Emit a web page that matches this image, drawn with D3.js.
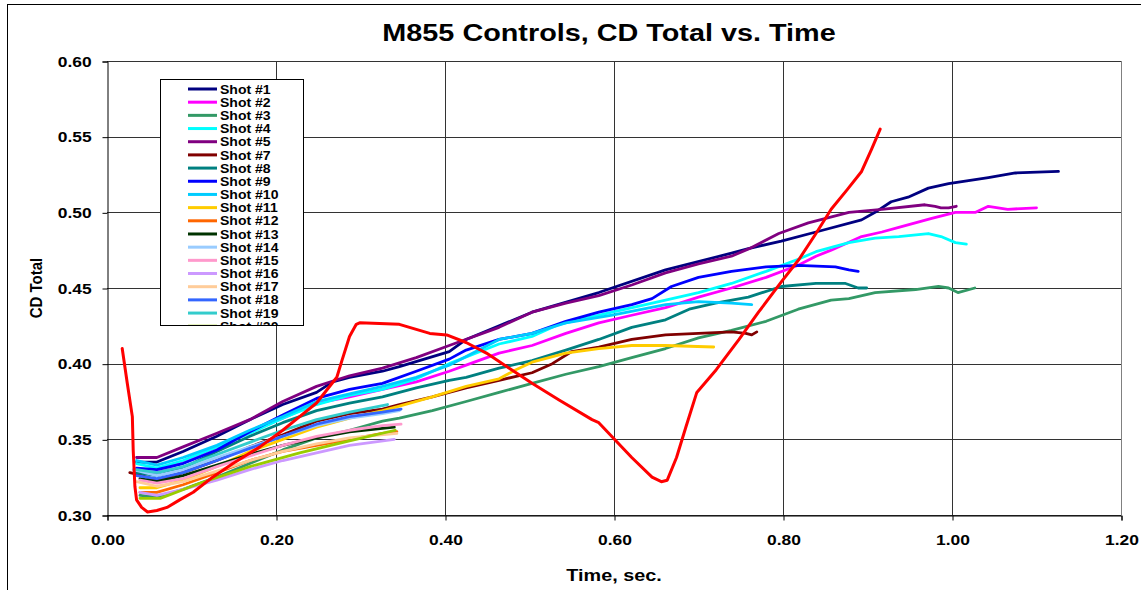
<!DOCTYPE html>
<html><head><meta charset="utf-8">
<script src="https://cdn.jsdelivr.net/npm/d3@7"></script>
<style>
html,body{margin:0;padding:0;background:#fff;}
svg text{font-family:"Liberation Sans",Arial,sans-serif;font-weight:bold;}
</style></head>
<body><svg id="c" width="1141" height="590"></svg>
<script>
// ---- data (time in s, CD total) ----
const chartTitle = "M855 Controls, CD Total vs. Time";
const xTitle = "Time, sec.";
const yTitle = "CD Total";
const xTicks = [0, 0.2, 0.4, 0.6, 0.8, 1.0, 1.2];
const yTicks = [0.30, 0.35, 0.40, 0.45, 0.50, 0.55, 0.60];

const shot1 = [[0.035,0.335],[0.059,0.335],[0.090,0.342],[0.130,0.352],[0.169,0.363],[0.208,0.373],[0.248,0.381],[0.267,0.388],[0.287,0.391],[0.326,0.395],[0.346,0.398],[0.405,0.408],[0.425,0.416],[0.503,0.434],[0.582,0.447],[0.661,0.462],[0.739,0.473],[0.759,0.476],[0.798,0.481],[0.839,0.487],[0.893,0.495],[0.909,0.500],[0.928,0.507],[0.948,0.510],[0.972,0.516],[0.996,0.519],[1.043,0.523],[1.075,0.526],[1.126,0.527]];
const shot2 = [[0.035,0.329],[0.059,0.328],[0.090,0.335],[0.130,0.345],[0.169,0.355],[0.208,0.364],[0.248,0.374],[0.287,0.378],[0.326,0.383],[0.366,0.388],[0.405,0.395],[0.425,0.399],[0.464,0.407],[0.503,0.412],[0.543,0.420],[0.582,0.427],[0.621,0.432],[0.661,0.437],[0.700,0.444],[0.739,0.450],[0.780,0.457],[0.818,0.465],[0.839,0.471],[0.857,0.475],[0.893,0.484],[0.917,0.487],[0.937,0.490],[0.976,0.496],[1.004,0.500],[1.028,0.500],[1.043,0.504],[1.066,0.502],[1.100,0.503]];
const shot3 = [[0.039,0.313],[0.059,0.312],[0.090,0.317],[0.130,0.325],[0.169,0.334],[0.208,0.343],[0.248,0.351],[0.287,0.356],[0.326,0.362],[0.346,0.364],[0.385,0.369],[0.425,0.375],[0.464,0.381],[0.503,0.387],[0.543,0.393],[0.582,0.398],[0.621,0.404],[0.661,0.410],[0.700,0.417],[0.739,0.422],[0.780,0.428],[0.818,0.436],[0.857,0.442],[0.878,0.443],[0.909,0.447],[0.957,0.449],[0.984,0.451],[0.996,0.450],[1.007,0.447],[1.027,0.450]];
const shot4 = [[0.035,0.334],[0.059,0.331],[0.090,0.336],[0.130,0.345],[0.169,0.354],[0.208,0.364],[0.248,0.373],[0.287,0.379],[0.326,0.383],[0.366,0.390],[0.405,0.400],[0.464,0.413],[0.503,0.418],[0.535,0.426],[0.598,0.434],[0.661,0.442],[0.700,0.447],[0.739,0.453],[0.780,0.461],[0.818,0.469],[0.839,0.474],[0.878,0.480],[0.909,0.483],[0.937,0.484],[0.972,0.486],[0.987,0.484],[1.004,0.480],[1.017,0.479]];
const shot5 = [[0.035,0.338],[0.059,0.338],[0.090,0.345],[0.130,0.354],[0.169,0.363],[0.208,0.375],[0.248,0.385],[0.287,0.392],[0.326,0.397],[0.366,0.404],[0.405,0.412],[0.464,0.424],[0.503,0.434],[0.543,0.440],[0.582,0.445],[0.621,0.452],[0.661,0.460],[0.700,0.466],[0.739,0.471],[0.760,0.476],[0.795,0.486],[0.830,0.493],[0.878,0.500],[0.917,0.502],[0.968,0.505],[0.980,0.504],[0.987,0.503],[0.996,0.503],[1.005,0.504]];
const shot7 = [[0.027,0.328],[0.035,0.327],[0.059,0.323],[0.090,0.328],[0.130,0.336],[0.169,0.345],[0.208,0.353],[0.248,0.362],[0.287,0.367],[0.326,0.370],[0.346,0.373],[0.385,0.378],[0.425,0.384],[0.464,0.389],[0.503,0.394],[0.527,0.400],[0.550,0.408],[0.582,0.411],[0.621,0.416],[0.661,0.419],[0.700,0.420],[0.739,0.421],[0.756,0.420],[0.763,0.419],[0.769,0.421]];
const shot8 = [[0.035,0.328],[0.059,0.326],[0.090,0.331],[0.130,0.342],[0.169,0.352],[0.208,0.361],[0.248,0.369],[0.287,0.374],[0.326,0.378],[0.366,0.384],[0.405,0.389],[0.425,0.391],[0.464,0.397],[0.503,0.402],[0.543,0.409],[0.582,0.416],[0.621,0.424],[0.661,0.429],[0.689,0.436],[0.720,0.440],[0.759,0.444],[0.798,0.451],[0.839,0.453],[0.874,0.453],[0.889,0.450],[0.899,0.450]];
const shot9 = [[0.035,0.331],[0.059,0.330],[0.090,0.334],[0.130,0.343],[0.169,0.355],[0.208,0.366],[0.248,0.377],[0.287,0.383],[0.326,0.387],[0.366,0.395],[0.405,0.403],[0.425,0.409],[0.464,0.416],[0.503,0.420],[0.543,0.428],[0.582,0.434],[0.621,0.439],[0.645,0.443],[0.668,0.451],[0.700,0.457],[0.739,0.461],[0.780,0.464],[0.818,0.465],[0.862,0.464],[0.878,0.462],[0.889,0.461]];
const shot10 = [[0.035,0.336],[0.059,0.333],[0.090,0.338],[0.130,0.346],[0.169,0.356],[0.208,0.365],[0.248,0.375],[0.287,0.380],[0.326,0.385],[0.366,0.391],[0.405,0.399],[0.464,0.416],[0.503,0.420],[0.543,0.427],[0.598,0.432],[0.661,0.439],[0.700,0.441],[0.739,0.440],[0.763,0.439]];
const shot11 = [[0.039,0.318],[0.059,0.318],[0.090,0.323],[0.130,0.332],[0.169,0.342],[0.208,0.350],[0.248,0.358],[0.287,0.364],[0.326,0.369],[0.346,0.372],[0.385,0.378],[0.425,0.385],[0.464,0.390],[0.484,0.396],[0.503,0.401],[0.543,0.407],[0.582,0.410],[0.621,0.412],[0.661,0.412],[0.718,0.411]];
const shot12 = [[0.039,0.315],[0.059,0.315],[0.090,0.320],[0.130,0.328],[0.169,0.336],[0.208,0.342],[0.248,0.346],[0.287,0.350],[0.326,0.354],[0.343,0.355]];
const shot13 = [[0.039,0.324],[0.059,0.322],[0.090,0.326],[0.130,0.333],[0.169,0.340],[0.208,0.346],[0.248,0.351],[0.287,0.355],[0.340,0.358]];
const shot14 = [[0.031,0.330],[0.059,0.326],[0.090,0.330],[0.130,0.338],[0.169,0.345],[0.208,0.352],[0.248,0.359],[0.287,0.364],[0.326,0.367],[0.346,0.369]];
const shot15 = [[0.039,0.323],[0.059,0.321],[0.090,0.324],[0.130,0.332],[0.169,0.339],[0.208,0.346],[0.248,0.352],[0.287,0.356],[0.326,0.359],[0.348,0.360]];
const shot16 = [[0.039,0.315],[0.059,0.313],[0.090,0.317],[0.130,0.323],[0.169,0.330],[0.208,0.336],[0.248,0.341],[0.287,0.346],[0.340,0.350]];
const shot17 = [[0.035,0.322],[0.059,0.319],[0.090,0.322],[0.130,0.329],[0.169,0.336],[0.208,0.342],[0.248,0.347],[0.287,0.351],[0.343,0.354]];
const shot18 = [[0.035,0.326],[0.059,0.324],[0.090,0.328],[0.130,0.336],[0.169,0.344],[0.208,0.352],[0.248,0.360],[0.287,0.365],[0.326,0.368],[0.348,0.370]];
const shot19 = [[0.035,0.330],[0.059,0.328],[0.090,0.332],[0.130,0.340],[0.169,0.348],[0.208,0.356],[0.248,0.363],[0.287,0.368],[0.332,0.373]];
const shot20 = [[0.039,0.311],[0.063,0.311],[0.110,0.321],[0.169,0.332],[0.228,0.341],[0.287,0.349],[0.341,0.356]];
const shot21 = [[0.018,0.410],[0.024,0.387],[0.030,0.365],[0.031,0.343],[0.033,0.319],[0.035,0.310],[0.041,0.305],[0.048,0.302],[0.059,0.303],[0.071,0.305],[0.086,0.310],[0.102,0.315],[0.125,0.325],[0.149,0.334],[0.181,0.345],[0.208,0.356],[0.228,0.365],[0.248,0.374],[0.272,0.391],[0.278,0.402],[0.287,0.418],[0.295,0.426],[0.299,0.427],[0.346,0.426],[0.382,0.420],[0.402,0.419],[0.425,0.414],[0.449,0.407],[0.476,0.397],[0.503,0.387],[0.535,0.376],[0.574,0.363],[0.582,0.361],[0.621,0.338],[0.645,0.325],[0.656,0.322],[0.663,0.323],[0.674,0.338],[0.685,0.358],[0.698,0.381],[0.721,0.396],[0.748,0.416],[0.771,0.434],[0.798,0.454],[0.819,0.469],[0.839,0.486],[0.857,0.502],[0.876,0.515],[0.893,0.527],[0.905,0.542],[0.915,0.555]];

const seriesNames = ["Shot #1","Shot #2","Shot #3","Shot #4","Shot #5","Shot #7","Shot #8","Shot #9","Shot #10","Shot #11","Shot #12","Shot #13","Shot #14","Shot #15","Shot #16","Shot #17","Shot #18","Shot #19","Shot #20","Shot #21"];
const seriesData = [shot1,shot2,shot3,shot4,shot5,shot7,shot8,shot9,shot10,shot11,shot12,shot13,shot14,shot15,shot16,shot17,shot18,shot19,shot20,shot21];
const seriesColors = ["#000080","#FF00FF","#339966","#00FFFF","#800080","#800000","#008080","#0000FF","#00CCFF","#FFCC00","#FF6600","#003300","#99CCFF","#FF99CC","#CC99FF","#FFCC99","#3366FF","#33CCCC","#99CC00","#FF0000"];

// ---- drawing ----
const svg = d3.select("#c");
const L = 107, R = 1121, T = 61, B = 515;
const SX = 1.2; // horizontal text stretch seen in the reference
const x = d3.scaleLinear().domain([0, 1.2]).range([L, R]);
const y = d3.scaleLinear().domain([0.30, 0.60]).range([B, T]);

svg.append("rect").attr("x", 7.5).attr("y", 4.5).attr("width", 1150).attr("height", 600)
  .attr("fill", "#fff").attr("stroke", "#000").attr("stroke-width", 1);

function stretchedText(px, py, size, txt, anchor) {
  return svg.append("text").attr("transform", `translate(${px},${py}) scale(${SX},1)`)
    .attr("text-anchor", anchor || "middle").attr("font-size", size).text(txt);
}
stretchedText(609, 41, 24, chartTitle);

// grid
const g = svg.append("g");
g.selectAll("line.hg").data(yTicks).join("line")
  .attr("x1", L).attr("x2", R).attr("y1", d => Math.round(y(d)) + 0.5).attr("y2", d => Math.round(y(d)) + 0.5)
  .attr("stroke", "#333").attr("stroke-width", 1);
g.selectAll("line.vg").data(xTicks.slice(1)).join("line")
  .attr("y1", T).attr("y2", B).attr("x1", d => Math.round(x(d)) + 0.5).attr("x2", d => Math.round(x(d)) + 0.5)
  .attr("stroke", d => d === 1.2 ? "#808080" : "#333").attr("stroke-width", 1);

// axes
const xAxis = d3.axisBottom(x).tickValues(xTicks).tickFormat(d3.format(".2f")).tickSize(5).tickPadding(14);
const yAxis = d3.axisLeft(y).tickValues(yTicks).tickFormat(d3.format(".2f")).tickSize(5).tickPadding(8.3);
const gx = svg.append("g").attr("transform", `translate(0.5,${B + 0.5})`).call(xAxis);
const gy = svg.append("g").attr("transform", `translate(${L + 0.5},0.5)`).call(yAxis);
[gx, gy].forEach(a => {
  a.select(".domain").attr("stroke", "#000");
  a.selectAll(".tick line").attr("stroke", "#000");
  a.selectAll(".tick text").attr("font-size", 14.5).attr("font-weight", "bold")
    .attr("font-family", '"Liberation Sans",Arial,sans-serif').attr("fill", "#000")
    .attr("transform", `scale(${SX},1)`);
});

// axis titles
stretchedText(614, 581, 16.5, xTitle);
svg.append("text").attr("transform", "translate(42,288) rotate(-90) scale(1,1.15)").attr("text-anchor", "middle").attr("font-size", 15).text(yTitle);

// series
const line = d3.line().x(d => x(d[0])).y(d => y(d[1]));
svg.append("g").selectAll("path").data(seriesData).join("path")
  .attr("d", line).attr("fill", "none")
  .attr("stroke", (d, i) => seriesColors[i])
  .attr("stroke-width", (d, i) => i === seriesData.length - 1 ? 3 : 2.8)
  .attr("stroke-linejoin", "round").attr("stroke-linecap", "round");

// legend
const lg = svg.append("g");
const lx = 160, ly = 79, lw = 143, lh = 246;
svg.append("clipPath").attr("id", "lc").append("rect").attr("x", lx).attr("y", ly).attr("width", lw).attr("height", lh);
lg.append("rect").attr("x", lx + 0.5).attr("y", ly + 0.5).attr("width", lw).attr("height", lh)
  .attr("fill", "#fff").attr("stroke", "#000").attr("stroke-width", 1);
const items = lg.append("g").attr("clip-path", "url(#lc)");
seriesNames.forEach((n, i) => {
  const yy = ly + 10 + i * 13.18;
  items.append("line").attr("x1", 188).attr("x2", 217).attr("y1", yy).attr("y2", yy)
    .attr("stroke", seriesColors[i]).attr("stroke-width", 3);
  items.append("text").attr("transform", `translate(220,${yy + 4.6}) scale(1.08,1)`)
    .attr("font-size", 13).text(n);
});
</script></body></html>
